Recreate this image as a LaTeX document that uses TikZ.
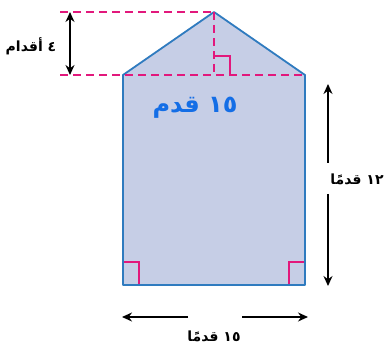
\documentclass[tikz,border=0pt]{standalone}
\usepackage{fontspec}
\newfontfamily\arabicfont[Script=Arabic]{DejaVu Sans}
\TeXXeTstate=1
\usetikzlibrary{arrows.meta}
\definecolor{fillc}{RGB}{198,206,230}
\definecolor{edgec}{RGB}{47,123,191}
\definecolor{magc}{RGB}{226,24,124}
\definecolor{handc}{RGB}{20,110,230}
\tikzset{
  houseshape/.style={fill=fillc,draw=edgec,line width=1.8pt,line join=round},
  guide/.style={draw=magc,line width=1.3pt,dash pattern=on 8pt off 5pt},
  rmark/.style={draw=magc,line width=1.3pt},
  dim/.style={draw=black,line width=1.4pt,-{Stealth[length=10pt,width=9pt]}},
  dimboth/.style={draw=black,line width=1.4pt,{Stealth[length=10pt,width=9pt]}-{Stealth[length=10pt,width=9pt]}},
  lab/.style={font=\arabicfont\bfseries\fontsize{14}{16}\selectfont,inner sep=0pt},
  hand/.style={font=\arabicfont\bfseries\fontsize{24}{26}\selectfont,text=handc,inner sep=0pt}
}
\begin{document}
\begin{tikzpicture}[x=1pt,y=-1pt]
\useasboundingbox (0,0) rectangle (390,352);
% shape corners
\coordinate (bl) at (123,285);
\coordinate (br) at (305,285);
\coordinate (sr) at (305,75);
\coordinate (apex) at (214,12);
\coordinate (sl) at (123,75);
\coordinate (foot) at (214,75);
\coordinate (gl1) at (60,12);
\coordinate (gl2) at (60,75);
\draw[houseshape] (bl) -- (br) -- (sr) -- (apex) -- (sl) -- cycle;
% guides
\draw[guide] (gl1) -- (apex);
\draw[guide] (gl2) -- (sr);
\draw[guide] (apex) -- (foot);
% right angle marks
\draw[rmark] (214,56) -- (230,56) -- (230,75);
\draw[rmark] (124,262) -- (139,262) -- (139,284);
\draw[rmark] (304,262) -- (289,262) -- (289,284);
% left height arrow
\coordinate (ha1) at (70,12);
\coordinate (ha2) at (70,75);
\draw[dimboth] (ha1) -- (ha2);
\node[lab] (l4) at (31,46) {\beginR ٤ أقدام\endR};
% right arrow
\coordinate (ra1) at (328,163);
\coordinate (ra2) at (328,84);
\coordinate (ra3) at (328,194);
\coordinate (ra4) at (328,286);
\draw[dim] (ra1) -- (ra2);
\draw[dim] (ra3) -- (ra4);
\node[lab] (l12) at (357,179) {\beginR ١٢ قدمًا\endR};
% bottom arrow
\coordinate (ba1) at (188,317);
\coordinate (ba2) at (122,317);
\coordinate (ba3) at (242,317);
\coordinate (ba4) at (308,317);
\draw[dim] (ba1) -- (ba2);
\draw[dim] (ba3) -- (ba4);
\node[lab] (l15) at (214,336) {\beginR ١٥ قدمًا\endR};
% handwritten
\node[hand] (h15) at (195,108) {\beginR ١٥ قدم\endR};
\end{tikzpicture}
\end{document}
